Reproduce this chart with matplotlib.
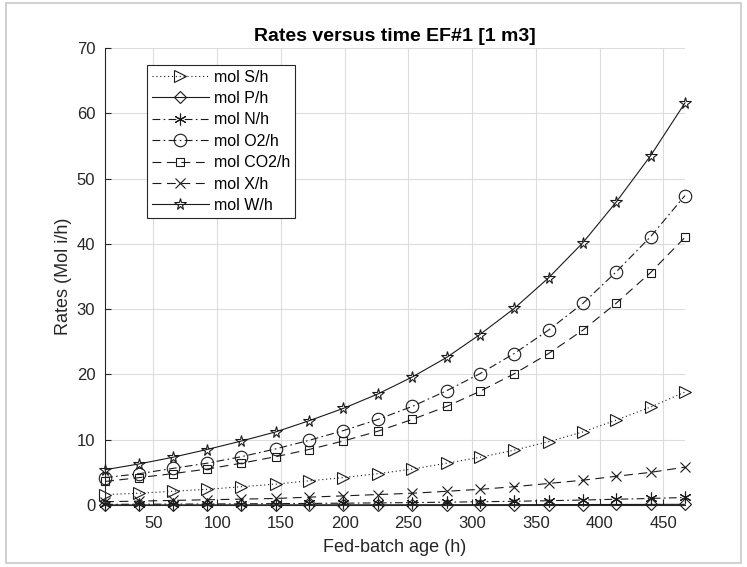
import matplotlib
matplotlib.use("Agg")
import matplotlib.pyplot as plt
from matplotlib.patches import Rectangle

plt.rcParams['font.family'] = ['Liberation Sans', 'DejaVu Sans']

# Fed-batch age (h)
age = [12, 39, 65, 92, 119, 146, 172, 199, 226, 253, 280, 306, 333, 360, 387, 413, 440, 467]

mol_S = [1.6, 1.8, 2.1, 2.4, 2.8, 3.2, 3.7, 4.2, 4.8, 5.5, 6.4, 7.3, 8.4, 9.7, 11.2, 13.0, 15.0, 17.3]
mol_P = [0.01, 0.01, 0.01, 0.02, 0.02, 0.02, 0.03, 0.03, 0.03, 0.04, 0.04, 0.05, 0.05, 0.06, 0.07, 0.08, 0.09, 0.10]
mol_N = [0.10, 0.12, 0.14, 0.16, 0.18, 0.21, 0.24, 0.28, 0.32, 0.37, 0.43, 0.50, 0.57, 0.66, 0.76, 0.88, 1.00, 1.15]
mol_O2 = [4.2, 4.8, 5.6, 6.4, 7.4, 8.6, 9.9, 11.4, 13.1, 15.1, 17.5, 20.1, 23.2, 26.8, 30.9, 35.7, 41.1, 47.4]
mol_CO2 = [3.6, 4.2, 4.8, 5.5, 6.4, 7.4, 8.5, 9.8, 11.3, 13.1, 15.1, 17.4, 20.1, 23.2, 26.8, 30.9, 35.6, 41.0]
mol_X = [0.5, 0.6, 0.7, 0.8, 0.9, 1.0, 1.2, 1.4, 1.6, 1.8, 2.1, 2.4, 2.8, 3.3, 3.8, 4.4, 5.0, 5.8]
mol_W = [5.4, 6.3, 7.3, 8.5, 9.8, 11.2, 12.9, 14.8, 17.0, 19.6, 22.6, 26.1, 30.1, 34.8, 40.2, 46.4, 53.5, 61.6]

labels = ['mol S/h', 'mol P/h', 'mol N/h', 'mol O2/h', 'mol CO2/h', 'mol X/h', 'mol W/h']
xticks = [50, 100, 150, 200, 250, 300, 350, 400, 450]
yticks = [0, 10, 20, 30, 40, 50, 60, 70]

fig = plt.figure(figsize=(7.47, 5.67), dpi=100)
fig.patches.append(Rectangle((6/747, 4/567), 735/747, 560/567, transform=fig.transFigure,
                             fill=False, edgecolor='#c8c8c8', linewidth=1.2))
ax = fig.add_axes([105/747, 1 - 505/567, 580/747, 457/567])

lw = 0.8
dotted = (0, (1, 2.5))
solid = '-'
dashdot = (0, (7, 3, 1.5, 3))
dashed = (0, (8, 5))
series = [
    (mol_S, dotted, '>', 9),
    (mol_P, solid, 'D', 6.5),
    (mol_N, dashdot, (6, 2, 0), 8.5),
    (mol_O2, dashdot, 'o', 9),
    (mol_CO2, dashed, 's', 6),
    (mol_X, dashed, 'x', 7.5),
    (mol_W, solid, '*', 8.5),
]
for (vals, ls, mk, ms), lab in zip(series, labels):
    ax.plot(age, vals, linestyle=ls, marker=mk, markersize=ms, color='#1a1a1a',
            markerfacecolor='none', markeredgecolor='#1a1a1a', markeredgewidth=0.8,
            linewidth=lw, label=lab, clip_on=False)

ax.set_xlim(age[0], age[-1])
ax.set_ylim(0, 70)
ax.set_xticks(xticks)
ax.set_yticks(yticks)
ax.tick_params(direction='in', length=4, width=0.8, labelsize=12, colors='#262626')
ax.tick_params(axis='x', pad=8)
ax.tick_params(axis='y', pad=7)
ax.grid(True, color='#dcdcdc', linewidth=0.8)
ax.set_axisbelow(True)
for s in ['top', 'right']:
    ax.spines[s].set_visible(False)
for s in ['left', 'bottom']:
    ax.spines[s].set_color('#262626')
    ax.spines[s].set_linewidth(0.8)

ax.set_title('Rates versus time EF#1 [1 m3]', fontsize=14, fontweight='bold', pad=5)
ax.set_xlabel('Fed-batch age (h)', fontsize=13, color='#262626', labelpad=6)
ax.set_ylabel('Rates (Mol i/h)', fontsize=13, color='#262626', labelpad=3)

leg = ax.legend(loc='upper left', bbox_to_anchor=(0.072, 0.963), fontsize=11.5,
                frameon=True, fancybox=False, framealpha=1, edgecolor='#262626',
                handlelength=3.6, borderpad=0.3, labelspacing=0.4, handletextpad=0.3,
                borderaxespad=0)
leg.get_frame().set_linewidth(0.8)

fig.savefig('out.png', dpi=100)
